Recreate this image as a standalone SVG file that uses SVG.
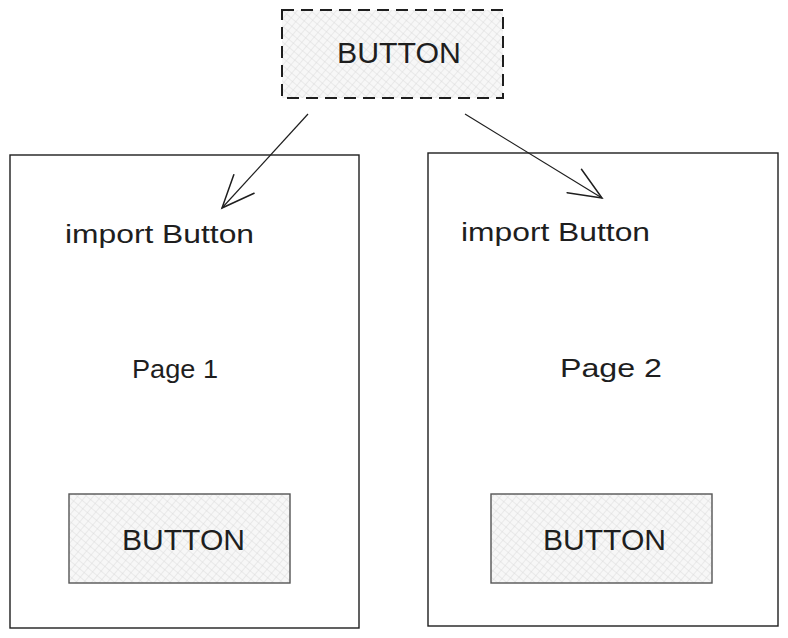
<svg xmlns="http://www.w3.org/2000/svg" width="788" height="638" viewBox="0 0 788 638">
<defs>
<pattern id="hatch" width="6" height="6" patternUnits="userSpaceOnUse" patternTransform="rotate(40)">
<rect width="6" height="6" fill="#f7f7f7"/>
<path d="M0 0 L0 6 M0 0 L6 0" stroke="#d4d4d4" stroke-width="0.8"/>
</pattern>
<marker id="ah" markerUnits="userSpaceOnUse" markerWidth="40" markerHeight="40" refX="0" refY="0" viewBox="-30 -15 32 30" orient="auto" overflow="visible">
<path d="M-26 -11 L0 0 L-26 11" fill="none" stroke="#1e1e1e" stroke-width="1.2" stroke-linecap="round"/>
</marker>
<style>
.page{fill:none;stroke:#1e1e1e;stroke-width:1.4}
.btn{fill:url(#hatch);stroke:#555;stroke-width:1.4}
.dash{fill:url(#hatch);stroke:#1e1e1e;stroke-width:2;stroke-dasharray:12 7}
.t{font-family:"Liberation Sans",Arial,sans-serif;fill:#1e1e1e}
.conn{fill:none;stroke:#1e1e1e;stroke-width:1.2;marker-end:url(#ah)}
</style>
</defs>
<rect width="788" height="638" fill="#ffffff"/>
<g id="page1">
<rect class="page" x="10" y="155" width="349" height="473"/>
<text class="t" x="65" y="243" font-size="26" textLength="189" lengthAdjust="spacingAndGlyphs">import Button</text>
<text class="t" x="132" y="378" font-size="26" textLength="86" lengthAdjust="spacingAndGlyphs">Page 1</text>
</g>
<g id="page2">
<rect class="page" x="428" y="153" width="350" height="473"/>
<text class="t" x="461" y="241" font-size="26" textLength="189" lengthAdjust="spacingAndGlyphs">import Button</text>
<text class="t" x="560" y="377" font-size="26" textLength="102" lengthAdjust="spacingAndGlyphs">Page 2</text>
</g>
<g id="button-top">
<rect class="dash" x="282" y="10" width="221" height="88"/>
<text class="t" x="337" y="63" font-size="30" textLength="124" lengthAdjust="spacingAndGlyphs">BUTTON</text>
</g>
<g id="button1">
<rect class="btn" x="69" y="494" width="221" height="89"/>
<text class="t" x="122" y="550" font-size="30" textLength="123" lengthAdjust="spacingAndGlyphs">BUTTON</text>
</g>
<g id="button2">
<rect class="btn" x="491" y="494" width="221" height="89"/>
<text class="t" x="543" y="550" font-size="30" textLength="123" lengthAdjust="spacingAndGlyphs">BUTTON</text>
</g>
<g id="connectors">
<path class="conn" d="M308 114 L222 208"/>
<path class="conn" d="M465 114 L602 198"/>
</g>
</svg>
